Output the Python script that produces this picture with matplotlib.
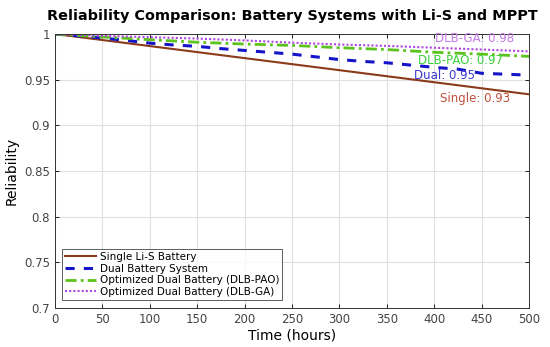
import matplotlib
matplotlib.use("Agg")
import matplotlib.pyplot as plt
from matplotlib.ticker import FuncFormatter

plt.rcParams['font.family'] = ['DejaVu Sans']

t_coarse = [0, 50, 100, 150, 200, 250, 300, 350, 400, 450, 500]
single = [1.000, 0.9934, 0.9868, 0.9802, 0.9736, 0.9670, 0.9604, 0.9538, 0.9472, 0.9406, 0.934]
t_dual = [0, 25, 50, 75, 100, 125, 150, 175, 200, 225, 250, 275, 300, 325, 350, 375, 400, 425, 450, 475, 500]
dual = [1.0, 0.998, 0.9956, 0.993, 0.990, 0.988, 0.9865, 0.984, 0.982, 0.980, 0.978, 0.975,
        0.972, 0.970, 0.9685, 0.966, 0.9635, 0.9615, 0.957, 0.956, 0.955]
pao = [1.0, 0.9968, 0.9938, 0.991, 0.989, 0.9875, 0.985, 0.983, 0.980, 0.978, 0.9755]
ga = [1.0, 0.998, 0.9965, 0.995, 0.993, 0.9905, 0.9885, 0.987, 0.985, 0.983, 0.981]

legend_labels = ["Single Li-S Battery", "Dual Battery System",
                 "Optimized Dual Battery (DLB-PAO)", "Optimized Dual Battery (DLB-GA)"]
annot_texts = ["DLB-GA: 0.98", "DLB-PAO: 0.97", "Dual: 0.95", "Single: 0.93"]
annot_x = [442, 428, 411, 443]
annot_y = [0.9956, 0.971, 0.9543, 0.929]

fig = plt.figure(figsize=(5.5, 3.47), dpi=100)
ax = fig.add_axes([0.1, 0.112, 0.862, 0.79])

c_single = '#8b3a1a'
c_dual = '#1414c8'
c_pao = '#5cc21c'
c_ga = '#b048e0'

ax.plot(t_coarse, single, color=c_single, lw=1.5, label=legend_labels[0])
ax.plot(t_dual, dual, color=c_dual, lw=2.2, ls=(0, (3, 3)), label=legend_labels[1])
ax.plot(t_coarse, pao, color=c_pao, lw=2.0, ls=(0, (4, 1.5, 1, 1.5)), label=legend_labels[2])
ax.plot(t_coarse, ga, color=c_ga, lw=1.5, ls=(0, (1, 1)), label=legend_labels[3])

annot_colors = ['#c47ae8', '#3ccf3c', '#3a3ad0', '#c0503c']
for txt, x, y, c in zip(annot_texts, annot_x, annot_y, annot_colors):
    ax.text(x, y, txt, color=c, fontsize=8.5, ha='center', va='center')

ax.set_xlim(0, 500)
ax.set_ylim(0.7, 1.0)
ax.set_xticks(range(0, 501, 50))
ax.set_yticks([0.7, 0.75, 0.8, 0.85, 0.9, 0.95, 1.0])
ax.yaxis.set_major_formatter(FuncFormatter(lambda v, p: f"{v:g}"))
ax.tick_params(direction='in', top=True, right=True, labelsize=8.5, labelcolor='#444444',
               length=3, width=0.6)
ax.grid(True, color='#e0e0e0', lw=0.8)
for s in ax.spines.values():
    s.set_color('#333333')
    s.set_linewidth(0.7)

ax.set_xlabel("Time (hours)", fontsize=10, fontweight='medium', labelpad=2)
ax.set_ylabel("Reliability", fontsize=10, fontweight='medium', labelpad=4)
fig.text(292 / 550, 1 - 16 / 347, "Reliability Comparison: Battery Systems with Li-S and MPPT",
         fontsize=10.4, fontweight='bold', ha='center', va='center')

leg = ax.legend(loc='lower left', bbox_to_anchor=(0.015, 0.03), fontsize=7.5, frameon=True,
                fancybox=False, edgecolor='#333333', handlelength=3, handletextpad=0.3,
                borderpad=0.3, labelspacing=0.15, borderaxespad=0)
leg.get_frame().set_linewidth(0.7)

fig.savefig("out.png", dpi=100)
